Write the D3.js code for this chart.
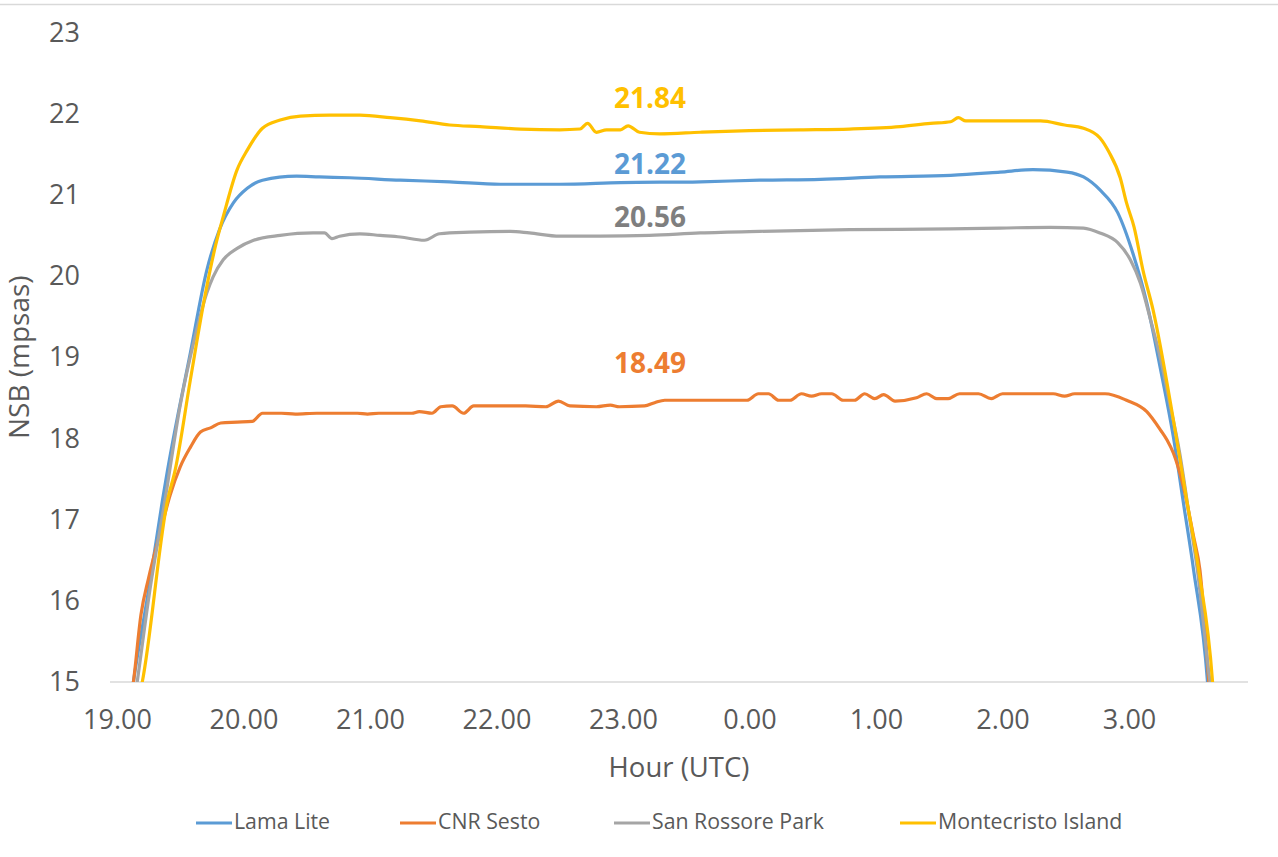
<!DOCTYPE html>
<html>
<head>
<meta charset="utf-8">
<script src="https://cdn.jsdelivr.net/npm/d3@7"></script>
<style>
  html, body { margin: 0; padding: 0; background: #fff; }
  svg { display: block; font-family: "Open Sans", "Noto Sans", sans-serif; }
</style>
</head>
<body>
<svg id="chart" width="1278" height="857"></svg>
<script>
// ---- DATA (hour of night, continuing past 24 for after-midnight; NSB mpsas) ----
const seriesNames = ["Lama Lite", "CNR Sesto", "San Rossore Park", "Montecristo Island"];
const seriesColors = ["#5B9BD5", "#ED7D31", "#A5A5A5", "#FFC000"];
const meanLabels = ["21.22", "18.49", "20.56", "21.84"];
const meanLabelColors = ["#5B9BD5", "#ED7D31", "#7F7F7F", "#FFC000"];
const xTickValues = [19, 20, 21, 22, 23, 24, 25, 26, 27];
const yTickValues = [15, 16, 17, 18, 19, 20, 21, 22, 23];

const lamaLite = [
  [19.11,14.78],[19.13,15.00],[19.25,16.13],[19.36,17.24],[19.40,17.61],[19.58,19.05],
  [19.71,20.07],[19.81,20.57],[19.92,20.90],[20.03,21.08],[20.15,21.18],[20.42,21.23],
  [20.60,21.22],[20.84,21.21],[21.24,21.18],[21.63,21.16],[22.03,21.13],[22.50,21.13],
  [22.98,21.15],[23.61,21.16],[24.08,21.18],[24.56,21.19],[25.03,21.22],[25.59,21.24],
  [25.98,21.28],[26.24,21.31],[26.51,21.28],[26.64,21.22],[26.77,21.06],[26.91,20.78],
  [27.03,20.28],[27.14,19.67],[27.25,18.84],[27.35,18.02],[27.43,17.20],[27.51,16.38],
  [27.62,15.00],[27.63,14.78]
];

const cnrSesto = [
  [19.11,14.78],[19.13,15.00],[19.19,15.83],[19.25,16.28],[19.34,16.83],[19.42,17.30],
  [19.50,17.65],[19.58,17.89],[19.66,18.08],[19.74,18.13],[19.82,18.19],[19.95,18.20],
  [20.07,18.21],[20.15,18.31],[20.30,18.31],[20.41,18.30],[20.58,18.31],[20.67,18.31],
  [20.90,18.31],[20.98,18.30],[21.07,18.31],[21.33,18.31],[21.39,18.33],[21.49,18.31],
  [21.56,18.39],[21.65,18.40],[21.74,18.31],[21.82,18.40],[22.23,18.40],[22.39,18.39],
  [22.49,18.46],[22.58,18.40],[22.79,18.39],[22.90,18.41],[22.97,18.39],[23.17,18.40],
  [23.25,18.44],[23.33,18.47],[23.45,18.47],[23.98,18.47],[24.07,18.55],[24.15,18.55],
  [24.23,18.47],[24.32,18.47],[24.41,18.55],[24.49,18.52],[24.57,18.55],[24.65,18.55],
  [24.74,18.47],[24.83,18.47],[24.91,18.55],[24.99,18.49],[25.06,18.54],[25.15,18.46],
  [25.32,18.50],[25.40,18.55],[25.48,18.49],[25.57,18.49],[25.66,18.55],[25.81,18.55],
  [25.91,18.49],[26.00,18.55],[26.40,18.55],[26.49,18.52],[26.57,18.55],[26.81,18.55],
  [26.98,18.47],[27.14,18.33],[27.25,18.10],[27.30,17.98],[27.35,17.82],[27.43,17.40],
  [27.51,16.79],[27.56,16.38],[27.63,15.00],[27.64,14.78]
];

const sanRossore = [
  [19.14,14.78],[19.16,15.00],[19.26,16.13],[19.38,17.24],[19.50,18.41],[19.62,19.27],
  [19.71,19.79],[19.76,19.99],[19.84,20.20],[19.95,20.34],[20.08,20.44],[20.29,20.50],
  [20.55,20.53],[20.64,20.53],[20.70,20.46],[20.76,20.49],[20.92,20.52],[21.08,20.50],
  [21.24,20.48],[21.43,20.44],[21.55,20.52],[21.79,20.54],[22.11,20.55],[22.26,20.53],
  [22.50,20.49],[22.82,20.49],[23.21,20.50],[23.61,20.53],[24.08,20.55],[24.79,20.57],
  [25.59,20.58],[25.98,20.59],[26.38,20.60],[26.64,20.59],[26.77,20.53],[26.91,20.41],
  [27.01,20.20],[27.09,19.91],[27.17,19.46],[27.25,18.97],[27.32,18.44],[27.40,17.82],
  [27.48,17.00],[27.54,16.38],[27.64,15.00],[27.66,14.78]
];

const montecristo = [
  [19.17,14.78],[19.20,15.00],[19.40,17.24],[19.46,17.61],[19.58,18.72],[19.70,19.79],
  [19.78,20.38],[19.84,20.73],[19.95,21.31],[20.03,21.55],[20.15,21.82],[20.29,21.92],
  [20.45,21.97],[20.68,21.98],[20.92,21.98],[21.16,21.95],[21.40,21.91],[21.63,21.86],
  [21.87,21.84],[22.19,21.81],[22.50,21.80],[22.66,21.81],[22.72,21.88],[22.79,21.77],
  [22.87,21.80],[22.98,21.80],[23.04,21.85],[23.13,21.77],[23.29,21.75],[23.61,21.77],
  [24.00,21.79],[24.40,21.80],[24.79,21.81],[25.19,21.84],[25.43,21.88],[25.59,21.90],
  [25.65,21.95],[25.71,21.91],[25.98,21.91],[26.30,21.91],[26.49,21.86],[26.64,21.82],
  [26.77,21.70],[26.84,21.53],[26.93,21.21],[26.98,20.90],[27.04,20.60],[27.11,20.07],
  [27.19,19.58],[27.35,18.23],[27.46,17.20],[27.55,16.38],[27.66,15.00],[27.67,14.78]
];

const allSeries = [lamaLite, cnrSesto, sanRossore, montecristo];
const meanValues = [21.22, 18.49, 20.56, 21.84];

// ---- LAYOUT ----
const plot = { left: 110, right: 1248, top: 32.4, bottom: 682 };
const svg = d3.select("#chart");

const x = d3.scaleLinear().domain([18.945, 27.94]).range([plot.left, plot.right]);
const y = d3.scaleLinear().domain([15, 23]).range([plot.bottom, plot.top]);

// top border remnant
svg.append("line").attr("x1", 0).attr("x2", 1278).attr("y1", 4.5).attr("y2", 4.5)
  .attr("stroke", "#d9d9d9").attr("stroke-width", 1.5);

// clip
svg.append("defs").append("clipPath").attr("id", "plotClip")
  .append("rect").attr("x", plot.left).attr("y", 0)
  .attr("width", plot.right - plot.left).attr("height", plot.bottom);

// Y axis labels
const yAxis = d3.axisLeft(y).tickValues(yTickValues).tickSize(0).tickPadding(0).tickFormat(d3.format("d"));
const yG = svg.append("g").attr("transform", "translate(80,0)").call(yAxis);
yG.select(".domain").remove();
yG.selectAll("text").attr("font-size", 27).attr("fill", "#595959")
  .attr("font-family", "'Open Sans', sans-serif");

// X axis
const xAxis = d3.axisBottom(x).tickValues(xTickValues).tickSize(0).tickPadding(0)
  .tickFormat(d => (d % 24).toFixed(2));
const xG = svg.append("g").attr("transform", `translate(0,${plot.bottom})`).call(xAxis);
xG.select(".domain").attr("stroke", "#d9d9d9").attr("stroke-width", 1.5)
  .attr("d", `M${plot.left},0H${plot.right}`);
xG.selectAll("text").attr("font-size", 27).attr("fill", "#595959")
  .attr("font-family", "'Open Sans', sans-serif").attr("dy", null).attr("y", 40)
  .attr("dominant-baseline", "middle");

// Axis titles
svg.append("text").attr("x", (plot.left + plot.right) / 2).attr("y", 770)
  .attr("text-anchor", "middle").attr("dominant-baseline", "middle")
  .attr("font-size", 27.5).attr("fill", "#595959").text("Hour (UTC)");
svg.append("text").attr("transform", `translate(22,${(plot.top + plot.bottom) / 2}) rotate(-90)`)
  .attr("text-anchor", "middle").attr("dominant-baseline", "middle")
  .attr("font-size", 28).attr("fill", "#595959").text("NSB (mpsas)");

// Lines
const line = d3.line().x(d => x(d[0])).y(d => y(d[1])).curve(d3.curveMonotoneX);
const linesG = svg.append("g").attr("clip-path", "url(#plotClip)");
allSeries.forEach((s, i) => {
  linesG.append("path").datum(s).attr("d", line)
    .attr("fill", "none").attr("stroke", seriesColors[i]).attr("stroke-width", 3.2)
    .attr("stroke-linejoin", "round").attr("stroke-linecap", "round");
});

// Mean labels
const labelOffsets = [-10, -33, -11, -26];
meanLabels.forEach((t, i) => {
  svg.append("text").attr("x", 650).attr("y", y(meanValues[i]) + labelOffsets[i])
    .attr("text-anchor", "middle").attr("dominant-baseline", "middle")
    .attr("font-size", 28).attr("font-weight", "bold").attr("fill", meanLabelColors[i])
    .text(t);
});

// Legend
const legendX = [196, 400, 614, 900];
const legend = svg.append("g");
seriesNames.forEach((n, i) => {
  const g = legend.append("g").attr("transform", `translate(${legendX[i]},823)`);
  g.append("line").attr("x1", 0).attr("x2", 36).attr("y1", 0).attr("y2", 0)
    .attr("stroke", seriesColors[i]).attr("stroke-width", 3.2);
  g.append("text").attr("x", 38).attr("y", 0).attr("dominant-baseline", "middle")
    .attr("font-size", 21.3).attr("fill", "#595959").text(n);
});
</script>
</body>
</html>
